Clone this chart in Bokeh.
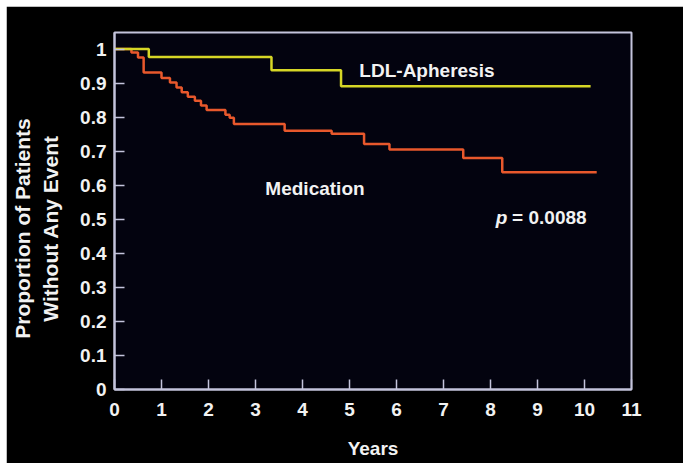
import math
from bokeh.plotting import figure
from bokeh.models import Range1d, Label, FixedTicker
from bokeh.embed import file_html
from bokeh.resources import INLINE

# ---- data ----
ldl_years = [0, 0.73, 3.34, 4.82, 10.13]
ldl_surv = [1.0, 0.977, 0.938, 0.891, 0.891]

med_years = [0, 0.36, 0.50, 0.62, 1.00, 1.18, 1.32, 1.43, 1.56, 1.71, 1.84, 1.96,
             2.36, 2.45, 2.54, 3.62, 4.62, 5.31, 5.85, 7.42, 8.25, 10.26]
med_surv = [1.0, 0.990, 0.975, 0.931, 0.915, 0.902, 0.887, 0.873, 0.860, 0.848, 0.834, 0.821,
            0.807, 0.798, 0.780, 0.760, 0.751, 0.721, 0.705, 0.680, 0.638, 0.638]

x_ticks = list(range(0, 12))
y_ticks = [0, 0.1, 0.2, 0.3, 0.4, 0.5, 0.6, 0.7, 0.8, 0.9, 1]
y_tick_labels = {0: "0", 0.1: "0.1", 0.2: "0.2", 0.3: "0.3", 0.4: "0.4", 0.5: "0.5",
                 0.6: "0.6", 0.7: "0.7", 0.8: "0.8", 0.9: "0.9", 1: "1"}

FONT = "Liberation Sans"
TXT = "#f2f2f2"
FRAME = "#c4c4dc"
PAD = "\u00a0" * 6

p = figure(width=677, height=457, output_backend="svg", toolbar_location=None,
           x_range=Range1d(0, 11), y_range=Range1d(0, 1.0487),
           min_border_left=108, min_border_right=52, min_border_top=26, min_border_bottom=74)
p.margin = (6, 0, 0, 6)
p.background_fill_color = "#03030f"
p.border_fill_color = "black"
p.outline_line_color = FRAME
p.outline_line_width = 2
p.grid.visible = False

for ax in (p.xaxis[0], p.yaxis[0]):
    ax.axis_line_color = FRAME
    ax.axis_line_width = 2
    ax.major_tick_line_color = FRAME
    ax.major_tick_line_width = 1.5
    ax.major_tick_in = 10
    ax.major_tick_out = 0
    ax.minor_tick_line_color = None
    ax.major_label_text_color = TXT
    ax.major_label_text_font = FONT
    ax.major_label_text_font_style = "bold"
    ax.major_label_text_font_size = "19px"
    ax.axis_label_text_color = TXT
    ax.axis_label_text_font = FONT
    ax.axis_label_text_font_style = "bold"
    ax.axis_label_text_font_size = "19px"

p.xaxis.ticker = FixedTicker(ticks=x_ticks)
p.yaxis.ticker = FixedTicker(ticks=y_ticks)
p.yaxis.major_label_overrides = y_tick_labels
p.xaxis.major_label_standoff = 13
p.yaxis.major_label_standoff = 8
p.xaxis.axis_label = "Years"
p.xaxis.axis_label_standoff = 19
p.yaxis.axis_label = "Proportion of Patients" + PAD + "\nWithout Any Event" + PAD
p.yaxis.axis_label_text_font_size = "21px"
p.yaxis.axis_label_standoff = 15

p.step(med_years, med_surv, mode="after", line_color="#e8582c", line_width=2.5)
p.step(ldl_years, ldl_surv, mode="after", line_color="#d6d626", line_width=2.5)

def lab(x, y, t, **kw):
    d = dict(text_color=TXT, text_font=FONT, text_font_style="bold",
             text_font_size="19px", text_baseline="alphabetic")
    d.update(kw)
    p.add_layout(Label(x=x, y=y, text=t, **d))

lab(5.21, 0.936, "LDL-Apheresis")
lab(3.21, 0.589, "Medication")
lab(8.11, 0.504, "p", text_font_style="bold italic")
lab(8.46, 0.504, "= 0.0088")

open("out.html", "w").write(file_html(p, INLINE))
